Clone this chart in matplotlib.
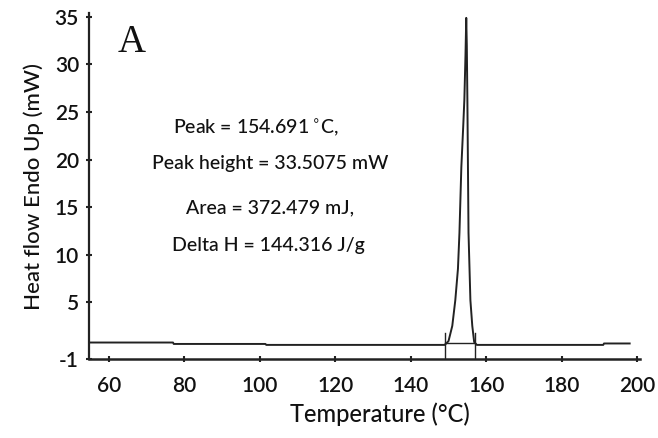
import matplotlib
matplotlib.use("Agg")
import matplotlib.pyplot as plt

# Curva DSC (temperatura en °C, flujo de calor en mW)
temperatura = [55, 77, 77.2, 101.5, 101.7, 149.0, 150.0, 151.0, 151.8, 152.5,
               152.9, 153.4, 153.9, 154.2, 154.5, 154.7, 154.85, 155.0, 155.3,
               155.8, 156.3, 156.8, 157.5, 191, 191.2, 198]
flujo = [0.75, 0.75, 0.6, 0.6, 0.5, 0.5, 0.9, 2.5, 5.2, 8.5,
         12.3, 19.2, 23.5, 26.3, 31.0, 34.9, 32.0, 26.3, 12.3,
         5.2, 2.5, 0.8, 0.5, 0.5, 0.65, 0.65]

# Limites de integracion del pico
limites_t = [149.2, 157.1]
limite_alto = 1.8
linea_base_int = 0.7

x_ticks = [60, 80, 100, 120, 140, 160, 180, 200]
y_ticks = [-1, 5, 10, 15, 20, 25, 30, 35]

anotaciones = ["Peak = 154.691$\\,^{\\circ}$C,",
               "Peak height = 33.5075 mW",
               "Area = 372.479 mJ,",
               "Delta H = 144.316 J/g"]

plt.rcParams['font.family'] = ['Lato', 'DejaVu Sans']
plt.rcParams['axes.unicode_minus'] = False

fig = plt.figure(figsize=(6.58, 4.38), dpi=100)
ax = fig.add_axes([0.135, 0.180, 0.838, 0.790])

color = '#222222'
ax.plot(temperatura, flujo, color=color, lw=1.4)
for t in limites_t:
    ax.plot([t, t], [-1, limite_alto], color=color, lw=1.0)
ax.plot(limites_t, [linea_base_int, linea_base_int], color=color, lw=1.0)

ax.set_xlim(54.7, 200.8)
ax.set_ylim(-1, 35.4)
ax.set_xticks(x_ticks)
ax.set_yticks(y_ticks)

for lado in ['top', 'right']:
    ax.spines[lado].set_visible(False)
ax.spines['left'].set_linewidth(1.6)
ax.spines['bottom'].set_linewidth(1.8)
ax.spines['left'].set_color(color)
ax.spines['bottom'].set_color(color)

ax.tick_params(direction='inout', length=4, width=1.5, colors=color,
               labelsize=15, labelcolor='#111111')
ax.tick_params(axis='x', pad=10)
ax.tick_params(axis='y', pad=5)
for lbl in ax.get_xticklabels() + ax.get_yticklabels():
    lbl.set_fontweight('semibold')

ax.set_xlabel('Temperature (°C)', fontsize=17, color='#111111', labelpad=6,
              fontweight='medium')
ax.xaxis.set_label_coords(0.528, -0.125)
ax.set_ylabel('Heat flow Endo Up (mW)', fontsize=16, color='#111111', labelpad=8,
              fontweight='medium')

# Letra del panel
ax.text(0.052, 0.915, 'A', transform=ax.transAxes, fontsize=28,
        family='Liberation Serif', color='#111111', va='center', ha='left')

# Resultados del analisis del pico
pos_y = [0.668, 0.566, 0.436, 0.329]
pos_x = [0.303, 0.329, 0.328, 0.325]
for texto, px, py in zip(anotaciones, pos_x, pos_y):
    ax.text(px, py, texto, transform=ax.transAxes, fontsize=14,
            ha='center', va='center', color='#111111', fontweight='medium')

fig.savefig('out.png', dpi=100)
